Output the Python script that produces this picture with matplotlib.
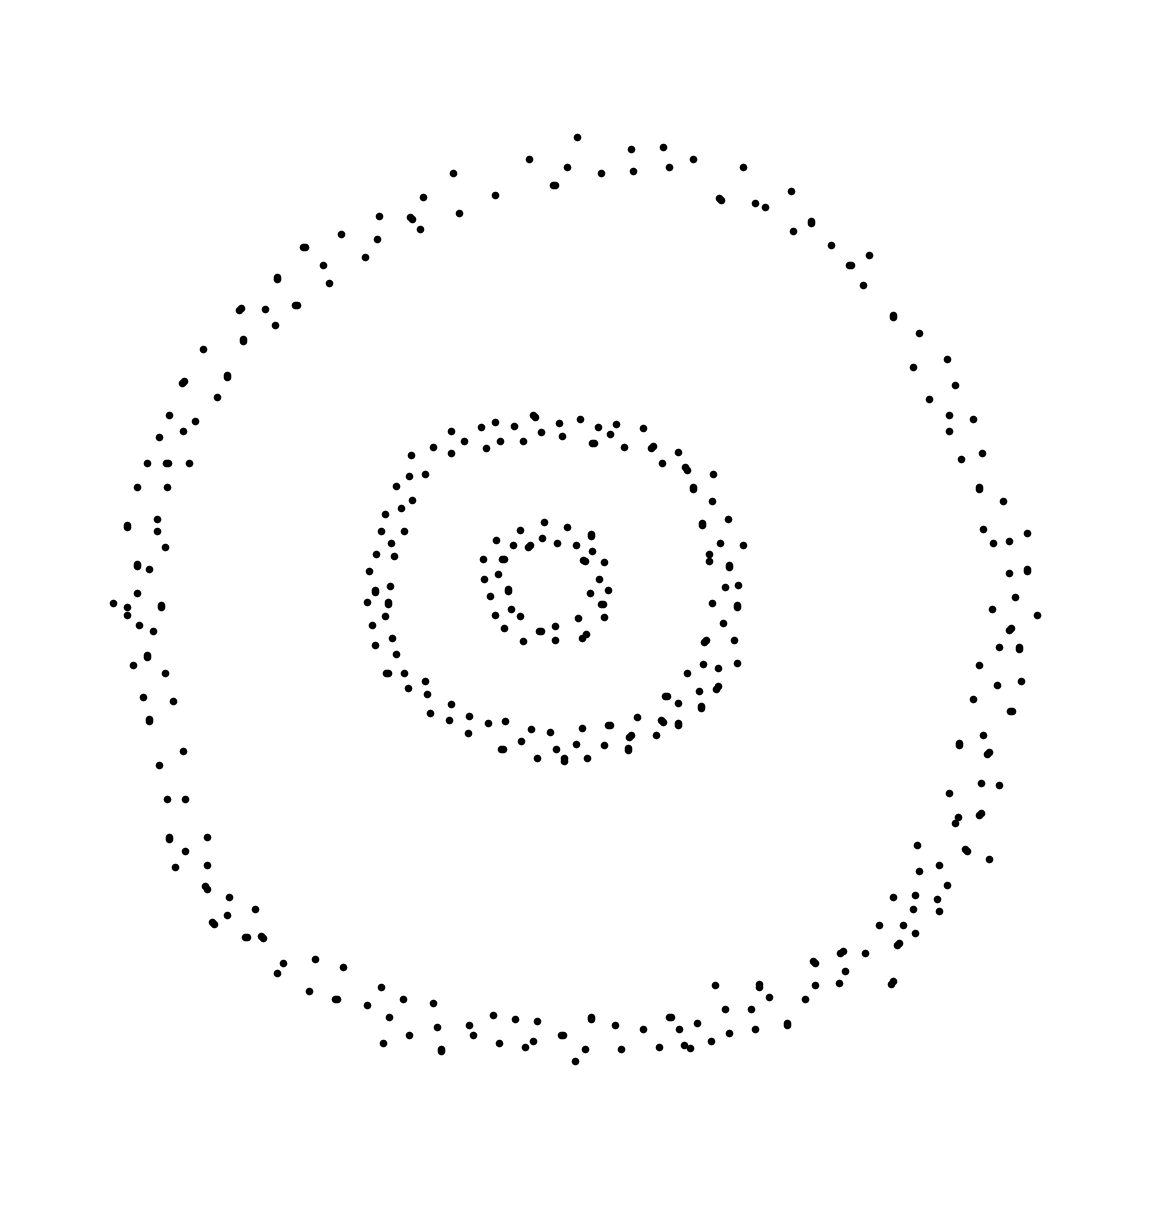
import matplotlib
matplotlib.use("Agg")
import matplotlib.pyplot as plt
import numpy as np

outer_ring = [
    (379, 216), (410, 217), (412, 219), (420, 229), (341, 234), (377, 239), (303, 247), (305, 247),
    (365, 257), (323, 265), (277, 277), (277, 279), (329, 283), (295, 305), (297, 305), (239, 310),
    (241, 308), (265, 309), (275, 325), (243, 339), (243, 341), (203, 349), (227, 375), (227, 377),
    (182, 383), (184, 381), (217, 397), (169, 415), (195, 421), (183, 431), (159, 437),
    (577, 137), (631, 149), (663, 147), (693, 159), (529, 159), (567, 167), (669, 167), (453, 173),
    (601, 173), (633, 171), (553, 185), (555, 185), (495, 195), (423, 197), (719, 198), (721, 200),
    (459, 213),
    (743, 167), (791, 191), (755, 203), (765, 207), (811, 221), (811, 223), (793, 231), (831, 245),
    (869, 255), (849, 265), (851, 265), (863, 285), (893, 315), (893, 317), (919, 333), (947, 359),
    (913, 367), (955, 385), (929, 399), (949, 415), (973, 419), (949, 431),
    (147, 463), (166, 463), (168, 463), (189, 463), (137, 487), (167, 487), (127, 525), (127, 527),
    (157, 519), (157, 531), (165, 547), (137, 564), (137, 566), (149, 569), (137, 593), (113, 603),
    (127, 607), (127, 615), (161, 605), (161, 607), (139, 625), (153, 631), (147, 655), (147, 657),
    (133, 665), (165, 673), (143, 697), (173, 701), (149, 719), (149, 721), (183, 751),
    (961, 459), (982, 453), (979, 487), (979, 489), (1003, 501), (983, 529), (993, 543), (1009, 541),
    (1027, 533), (1009, 573), (1027, 569), (1027, 571), (1015, 597), (992, 609), (1037, 615),
    (1009, 630), (1011, 628), (999, 647), (1019, 647), (1019, 649), (979, 665), (997, 685),
    (1021, 681), (973, 699), (1010, 711), (1012, 711), (983, 735), (959, 743), (959, 745),
    (987, 754), (989, 752),
    (159, 765), (167, 799), (185, 799), (169, 837), (169, 839), (207, 837), (185, 851), (175, 867),
    (207, 865), (205, 886), (207, 889), (229, 897), (255, 909), (227, 915), (212, 922), (214, 924),
    (245, 937), (247, 937), (261, 936), (263, 938), (283, 963), (277, 973), (315, 959), (343, 967),
    (309, 991), (335, 999), (337, 999), (367, 1005), (381, 987), (403, 999), (389, 1017),
    (409, 1035), (383, 1043),
    (715, 985), (433, 1003), (437, 1027), (441, 1049), (441, 1051), (469, 1025), (473, 1035),
    (493, 1015), (499, 1043), (515, 1019), (525, 1047), (533, 1041), (537, 1021), (561, 1035),
    (563, 1035), (575, 1061), (585, 1049), (591, 1017), (591, 1019), (615, 1025), (621, 1049),
    (643, 1029), (659, 1047), (669, 1017), (671, 1017), (679, 1029), (684, 1045), (690, 1048),
    (697, 1023), (711, 1041), (725, 1009), (729, 1033),
    (981, 783), (999, 785), (949, 793), (955, 823), (958, 817), (979, 815), (981, 813), (917, 845),
    (965, 849), (967, 851), (989, 859), (919, 871), (939, 865), (947, 885), (893, 897), (915, 895),
    (937, 899), (913, 909), (939, 911), (879, 925), (903, 925), (915, 933), (897, 945), (899, 943),
    (865, 953), (840, 953), (843, 951), (813, 961), (815, 963), (845, 971), (815, 985), (839, 983),
    (891, 984), (893, 981), (759, 984), (759, 987), (769, 997), (805, 999), (751, 1009),
    (787, 1023), (787, 1025), (755, 1029),
]

middle_ring = [
    (451, 431), (481, 427), (495, 422), (514, 426), (533, 415), (535, 417), (559, 423), (580, 419),
    (598, 427), (616, 424), (643, 428), (541, 432), (562, 436), (610, 434),
    (433, 447), (451, 453), (464, 441), (486, 448), (500, 441), (523, 441), (592, 443), (594, 443),
    (624, 447), (651, 448), (653, 446), (678, 452), (425, 474), (662, 463), (685, 467), (687, 470),
    (713, 474), (693, 487), (693, 489), (712, 501), (728, 519), (702, 523), (702, 525), (720, 543),
    (709, 554), (709, 561), (729, 565), (729, 567), (725, 587), (738, 585), (712, 603), (737, 605),
    (737, 607), (723, 623), (704, 642), (706, 640), (734, 640), (703, 664), (718, 668), (737, 663),
    (687, 673), (716, 689), (718, 686), (699, 691), (701, 706), (701, 708), (665, 696), (667, 696),
    (678, 703), (637, 717), (661, 720), (663, 722), (678, 723), (678, 725), (656, 735), (608, 725),
    (610, 725), (629, 737), (631, 735), (628, 748), (628, 750), (604, 745), (582, 728), (576, 744),
    (556, 749), (550, 732), (531, 729), (521, 741), (501, 749), (503, 749), (505, 721), (488, 723),
    (469, 716), (468, 733), (449, 720), (451, 704), (430, 713), (427, 694), (425, 681), (537, 758),
    (564, 758), (564, 761), (587, 758), (743, 545),
    (411, 455), (409, 476), (396, 486), (412, 500), (401, 508), (385, 514), (381, 531), (404, 531),
    (391, 543), (376, 554), (394, 556), (369, 571), (375, 590), (375, 592), (390, 586), (367, 602),
    (388, 602), (388, 604), (385, 616), (372, 625), (392, 638), (375, 645), (396, 654), (386, 673),
    (388, 673), (404, 673), (408, 688),
]

inner_ring = [
    (544, 522), (567, 527), (520, 530), (591, 534), (591, 536), (496, 540), (542, 538), (557, 543),
    (576, 545), (513, 545), (528, 547), (530, 545), (592, 551), (483, 559), (502, 559), (504, 559),
    (583, 560), (585, 561), (604, 562), (498, 574), (484, 579), (599, 579), (508, 589), (508, 591),
    (608, 590), (590, 593), (490, 596), (601, 604), (603, 604), (511, 609), (495, 615), (520, 616),
    (578, 618), (604, 617), (504, 628), (539, 631), (541, 631), (555, 626), (523, 641), (555, 640),
    (582, 638), (586, 634),
]

fig = plt.figure(figsize=(11.6, 12.12), dpi=100)
ax = fig.add_axes([0, 0, 1, 1])
for ring in (outer_ring, middle_ring, inner_ring):
    arr = np.array(ring, dtype=float)
    ax.scatter(arr[:, 0], arr[:, 1], s=30, c="black", linewidths=0)
ax.set_xlim(0, 1160)
ax.set_ylim(1212, 0)
ax.axis("off")
fig.savefig("out.png", dpi=100, facecolor="white")
